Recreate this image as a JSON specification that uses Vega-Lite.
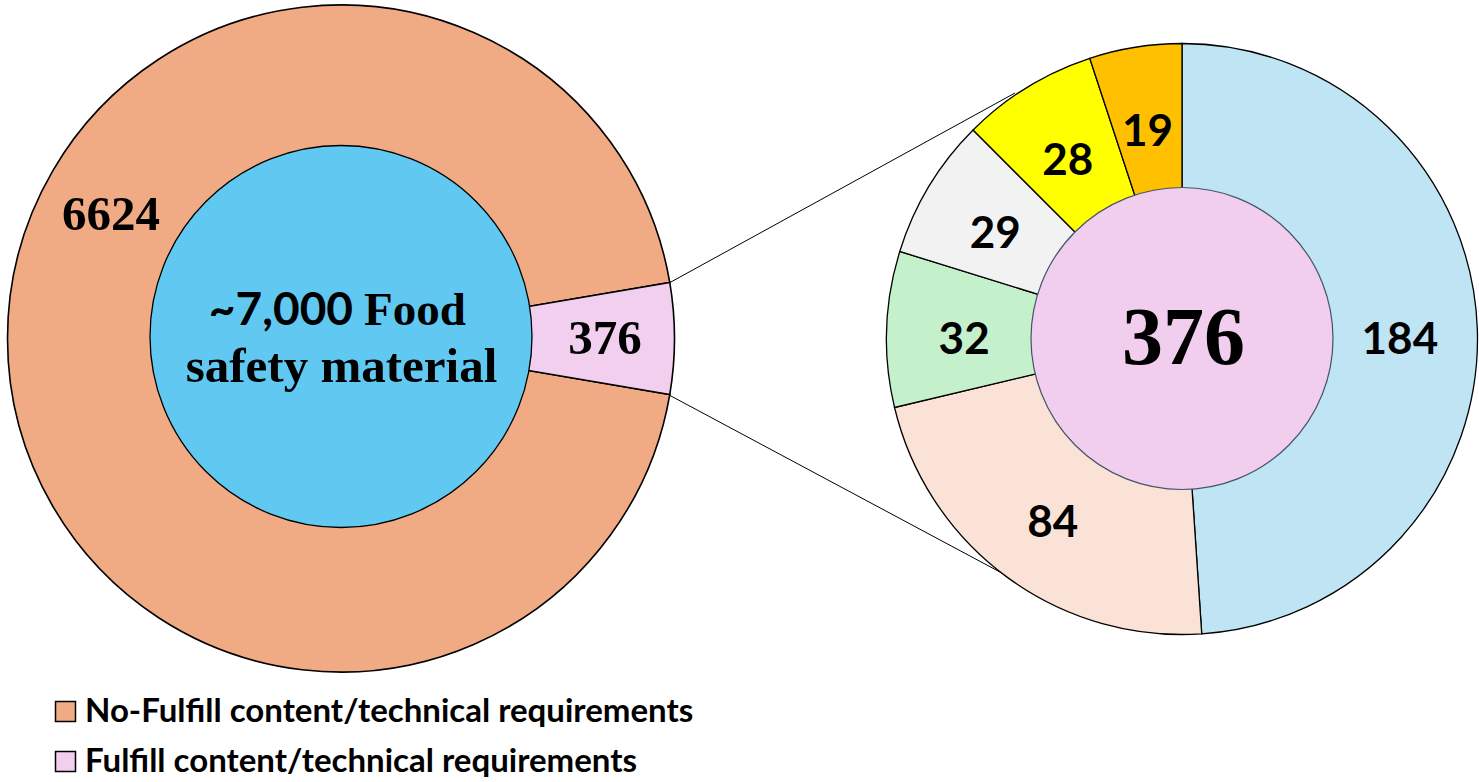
{
  "$schema": "https://vega.github.io/schema/vega-lite/v6.json",
  "width": 1479,
  "height": 782,
  "padding": 0,
  "autosize": {"type": "fit", "contains": "padding"},
  "background": "white",
  "config": {"view": {"stroke": null}},
  "datasets": {
    "outer": [
      {"pie": "left", "category": "No-Fulfill content/technical requirements", "value": 6624, "rank": 2},
      {"pie": "left", "category": "Fulfill content/technical requirements", "value": 376, "rank": 1}
    ],
    "detail": [
      {"pie": "right", "slice": "184", "value": 184, "rank": 1},
      {"pie": "right", "slice": "84", "value": 84, "rank": 2},
      {"pie": "right", "slice": "32", "value": 32, "rank": 3},
      {"pie": "right", "slice": "29", "value": 29, "rank": 4},
      {"pie": "right", "slice": "28", "value": 28, "rank": 5},
      {"pie": "right", "slice": "19", "value": 19, "rank": 6}
    ],
    "centres": [
      {"pie": "left", "value": 7000, "lead": "~7,000", "word": "Food", "rest": "safety material"},
      {"pie": "right", "value": 376, "label": "376"}
    ],
    "connectors": [
      {"x": 670, "y": 282.5, "x2": 1015, "y2": 93},
      {"x": 670, "y": 395.5, "x2": 1011.7, "y2": 578.3}
    ]
  },
  "resolve": {"scale": {"x": "independent", "y": "independent", "theta": "independent", "color": "independent"}},
  "layer": [
    {
      "data": {"name": "connectors"},
      "mark": {"type": "rule", "color": "black", "strokeWidth": 1},
      "encoding": {
        "x": {"field": "x", "type": "quantitative", "scale": {"domain": [0, 1479], "range": [0, 1479]}, "axis": null},
        "x2": {"field": "x2"},
        "y": {"field": "y", "type": "quantitative", "scale": {"domain": [0, 782], "range": [0, 782]}, "axis": null},
        "y2": {"field": "y2"}
      }
    },
    {
      "data": {"name": "outer"},
      "mark": {"type": "arc", "outerRadius": 333.5, "stroke": "black", "strokeWidth": 1.6},
      "encoding": {
        "x": {"field": "pie", "type": "nominal", "scale": {"type": "point", "domain": ["left", "right"], "range": [341, 1182], "padding": 0}, "axis": null},
        "y": {"field": "pie", "type": "nominal", "scale": {"type": "point", "domain": ["left", "right"], "range": [338.5, 339], "padding": 0}, "axis": null},
        "theta": {"field": "value", "type": "quantitative", "stack": true, "scale": {"range": [1.40205, 7.68524]}},
        "order": {"field": "rank", "type": "quantitative"},
        "color": {
          "field": "category", "type": "nominal",
          "scale": {"domain": ["No-Fulfill content/technical requirements", "Fulfill content/technical requirements"], "range": ["#F1AB84", "#F2CEEF"]},
          "legend": {
            "title": null, "orient": "none", "legendX": 49, "legendY": 695, "padding": 0,
            "symbolType": "square", "symbolSize": 400, "symbolStrokeColor": "black", "symbolStrokeWidth": 1.5, "symbolOpacity": 1,
            "labelFont": "Lato", "labelFontSize": 33, "labelFontWeight": "bold", "labelColor": "black", "labelLimit": 1000,
            "labelOffset": 3, "rowPadding": 16
          }
        }
      }
    },
    {
      "data": {"name": "centres"},
      "transform": [{"filter": "datum.pie == 'left'"}],
      "mark": {"type": "arc", "outerRadius": 191, "fill": "#60C8F1", "stroke": "black", "strokeWidth": 1.3},
      "encoding": {
        "x": {"field": "pie", "type": "nominal", "scale": {"type": "point", "domain": ["left", "right"], "range": [341, 1182], "padding": 0}, "axis": null},
        "y": {"field": "pie", "type": "nominal", "scale": {"type": "point", "domain": ["left", "right"], "range": [336.5, 339], "padding": 0}, "axis": null},
        "theta": {"field": "value", "type": "quantitative", "stack": true}
      }
    },
    {
      "data": {"name": "detail"},
      "mark": {"type": "arc", "outerRadius": 295.5, "stroke": "black", "strokeWidth": 1.3},
      "encoding": {
        "x": {"field": "pie", "type": "nominal", "scale": {"type": "point", "domain": ["left", "right"], "range": [341, 1182], "padding": 0}, "axis": null},
        "y": {"field": "pie", "type": "nominal", "scale": {"type": "point", "domain": ["left", "right"], "range": [338.5, 339], "padding": 0}, "axis": null},
        "theta": {"field": "value", "type": "quantitative", "stack": true},
        "order": {"field": "rank", "type": "quantitative"},
        "color": {
          "field": "slice", "type": "nominal",
          "scale": {"domain": ["184", "84", "32", "29", "28", "19"], "range": ["#BFE4F4", "#FBE2D6", "#C4F0CB", "#F2F2F2", "#FFFF00", "#FFC000"]},
          "legend": null
        }
      }
    },
    {
      "data": {"name": "centres"},
      "transform": [{"filter": "datum.pie == 'right'"}],
      "mark": {"type": "arc", "outerRadius": 151, "fill": "#F1CDEE", "stroke": "#44546A", "strokeWidth": 1.2},
      "encoding": {
        "x": {"field": "pie", "type": "nominal", "scale": {"type": "point", "domain": ["left", "right"], "range": [341, 1182], "padding": 0}, "axis": null},
        "y": {"field": "pie", "type": "nominal", "scale": {"type": "point", "domain": ["left", "right"], "range": [338.5, 338.5], "padding": 0}, "axis": null},
        "theta": {"field": "value", "type": "quantitative", "stack": true}
      }
    },
    {
      "data": {"name": "outer"},
      "mark": {"type": "text", "radius": 264, "font": "Liberation Serif", "fontSize": 49, "fontWeight": "bold", "color": "black", "align": "center", "baseline": "middle"},
      "encoding": {
        "x": {"field": "pie", "type": "nominal", "scale": {"type": "point", "domain": ["left", "right"], "range": [341, 1182], "padding": 0}, "axis": null},
        "y": {"field": "pie", "type": "nominal", "scale": {"type": "point", "domain": ["left", "right"], "range": [338.5, 339], "padding": 0}, "axis": null},
        "theta": {"field": "value", "type": "quantitative", "stack": true, "scale": {"range": [1.40205, 7.68524]}},
        "order": {"field": "rank", "type": "quantitative"},
        "text": {"condition": {"test": "datum.rank == 1", "field": "value", "type": "nominal"}, "value": ""}
      }
    },
    {
      "data": {"name": "outer"},
      "mark": {"type": "text", "radius": 261, "thetaOffset": 0.4915, "font": "Liberation Serif", "fontSize": 49, "fontWeight": "bold", "color": "black", "align": "center", "baseline": "middle"},
      "encoding": {
        "x": {"field": "pie", "type": "nominal", "scale": {"type": "point", "domain": ["left", "right"], "range": [341, 1182], "padding": 0}, "axis": null},
        "y": {"field": "pie", "type": "nominal", "scale": {"type": "point", "domain": ["left", "right"], "range": [338.5, 339], "padding": 0}, "axis": null},
        "theta": {"field": "value", "type": "quantitative", "stack": true, "scale": {"range": [1.40205, 7.68524]}},
        "order": {"field": "rank", "type": "quantitative"},
        "text": {"condition": {"test": "datum.rank == 2", "field": "value", "type": "nominal"}, "value": ""}
      }
    },
    {
      "data": {"name": "detail"},
      "mark": {"type": "text", "radius": 218, "dy": 9, "font": "Lato", "fontSize": 44, "fontWeight": "bold", "color": "black", "align": "center", "baseline": "middle"},
      "encoding": {
        "x": {"field": "pie", "type": "nominal", "scale": {"type": "point", "domain": ["left", "right"], "range": [341, 1182], "padding": 0}, "axis": null},
        "y": {"field": "pie", "type": "nominal", "scale": {"type": "point", "domain": ["left", "right"], "range": [338.5, 339], "padding": 0}, "axis": null},
        "theta": {"field": "value", "type": "quantitative", "stack": true},
        "order": {"field": "rank", "type": "quantitative"},
        "text": {"field": "slice", "type": "nominal"}
      }
    },
    {
      "data": {"name": "centres"},
      "transform": [{"filter": "datum.pie == 'left'"}],
      "mark": {"type": "text", "font": "Lato", "fontSize": 46, "fontWeight": "bold", "color": "black", "align": "right", "baseline": "alphabetic", "dx": 12, "dy": -13.5},
      "encoding": {
        "x": {"field": "pie", "type": "nominal", "scale": {"type": "point", "domain": ["left", "right"], "range": [341, 1182], "padding": 0}, "axis": null},
        "y": {"field": "pie", "type": "nominal", "scale": {"type": "point", "domain": ["left", "right"], "range": [338.5, 339], "padding": 0}, "axis": null},
        "text": {"field": "lead", "type": "nominal"}
      }
    },
    {
      "data": {"name": "centres"},
      "transform": [{"filter": "datum.pie == 'left'"}],
      "mark": {"type": "text", "font": "Liberation Serif", "fontSize": 47, "fontWeight": "bold", "color": "black", "align": "left", "baseline": "alphabetic", "dx": 23, "dy": -13.5},
      "encoding": {
        "x": {"field": "pie", "type": "nominal", "scale": {"type": "point", "domain": ["left", "right"], "range": [341, 1182], "padding": 0}, "axis": null},
        "y": {"field": "pie", "type": "nominal", "scale": {"type": "point", "domain": ["left", "right"], "range": [338.5, 339], "padding": 0}, "axis": null},
        "text": {"field": "word", "type": "nominal"}
      }
    },
    {
      "data": {"name": "centres"},
      "transform": [{"filter": "datum.pie == 'left'"}],
      "mark": {"type": "text", "font": "Liberation Serif", "fontSize": 49, "fontWeight": "bold", "color": "black", "align": "center", "baseline": "alphabetic", "dx": 0.5, "dy": 43.5},
      "encoding": {
        "x": {"field": "pie", "type": "nominal", "scale": {"type": "point", "domain": ["left", "right"], "range": [341, 1182], "padding": 0}, "axis": null},
        "y": {"field": "pie", "type": "nominal", "scale": {"type": "point", "domain": ["left", "right"], "range": [338.5, 339], "padding": 0}, "axis": null},
        "text": {"field": "rest", "type": "nominal"}
      }
    },
    {
      "data": {"name": "centres"},
      "transform": [{"filter": "datum.pie == 'right'"}],
      "mark": {"type": "text", "font": "Liberation Serif", "fontSize": 82, "fontWeight": "bold", "color": "black", "align": "center", "baseline": "alphabetic", "dx": 1.5, "dy": 25},
      "encoding": {
        "x": {"field": "pie", "type": "nominal", "scale": {"type": "point", "domain": ["left", "right"], "range": [341, 1182], "padding": 0}, "axis": null},
        "y": {"field": "pie", "type": "nominal", "scale": {"type": "point", "domain": ["left", "right"], "range": [338.5, 339], "padding": 0}, "axis": null},
        "text": {"field": "label", "type": "nominal"}
      }
    }
  ]
}
